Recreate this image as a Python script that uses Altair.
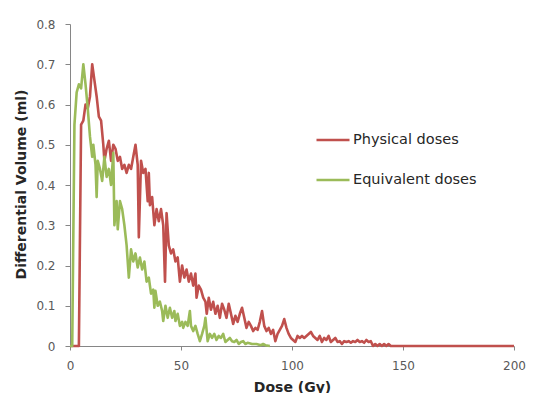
import altair as alt
import pandas as pd

phys_x = [0, 4, 5, 6, 7, 8, 9, 10, 11, 12, 13, 14, 15, 15.5, 16.5, 17.5, 18.5, 19.5, 20.5, 21.5,
          22.5, 23.5, 24.5, 25.5, 26.5, 27.5, 28.5, 29.5, 30.5, 31, 32, 33, 34, 35, 35.5, 36,
          37, 38, 39, 40, 41, 42, 42.8, 43.5, 44.5, 45.5, 46.5, 47.5, 48.5, 49.5, 50.5, 51.5,
          52.5, 53.5, 54.5, 55.5, 56.5, 57, 58, 59, 60, 61, 61.6, 62.5, 63.5, 64.5, 65.5, 66.5,
          67.5, 68.5, 69.5, 70.5, 71.5, 72.5, 73.5, 74.5, 75.5, 76.5, 77.5, 78.5, 79.5, 80.5,
          81.5, 82.5, 83.5, 84.5, 85.5, 86.5, 87.5, 88.5, 89.5, 90.5, 91.5, 92.5, 93.5, 94.5,
          95.5, 96.5, 97.5, 98.5, 99.5, 100.5, 101.5, 102.5, 103.5, 104.5, 105.5, 106.5, 107.5,
          108.5, 109.5, 110.5, 111.5, 112.5, 113.5, 114.5, 115.5, 116.5, 117.5, 118.5, 119.5,
          120.5, 121.5, 122.5, 123.5, 124.5, 125.5, 126.5, 127.5, 128.5, 129.5, 130.5, 131.5,
          132.5, 133.5, 134.5, 135.5, 136.5, 137.5, 138.5, 139.5, 140.5, 141.5, 142.5, 143.5,
          144.5, 200]
phys_y = [0, 0, 0.55, 0.56, 0.60, 0.59, 0.62, 0.70, 0.66, 0.62, 0.57, 0.56, 0.50, 0.46, 0.49,
          0.51, 0.46, 0.50, 0.49, 0.46, 0.47, 0.44, 0.45, 0.43, 0.45, 0.44, 0.47, 0.50, 0.45,
          0.27, 0.46, 0.43, 0.44, 0.36, 0.43, 0.35, 0.37, 0.30, 0.34, 0.31, 0.34, 0.30, 0.16,
          0.33, 0.25, 0.23, 0.24, 0.21, 0.22, 0.16, 0.20, 0.17, 0.19, 0.16, 0.18, 0.15, 0.18,
          0.12, 0.15, 0.14, 0.12, 0.11, 0.08, 0.12, 0.09, 0.11, 0.08, 0.10, 0.07, 0.105, 0.09,
          0.07, 0.105, 0.08, 0.055, 0.075, 0.06, 0.08, 0.095, 0.07, 0.045, 0.06, 0.05, 0.037,
          0.045, 0.04, 0.06, 0.087, 0.05, 0.037, 0.045, 0.03, 0.04, 0.012, 0.03, 0.04, 0.05,
          0.067, 0.045, 0.03, 0.02, 0.015, 0.01, 0.025, 0.02, 0.025, 0.02, 0.025, 0.03, 0.035,
          0.025, 0.02, 0.015, 0.025, 0.01, 0.02, 0.015, 0.025, 0.01, 0.015, 0.02, 0.01, 0.012,
          0.005, 0.012, 0.01, 0.012, 0.008, 0.012, 0.01, 0.015, 0.01, 0.012, 0.008, 0.015,
          0.01, 0.012, 0, 0.005, 0, 0.005, 0, 0.005, 0, 0.005, 0, 0]

equiv_x = [0, 1, 2, 3, 4, 5, 6, 7, 8, 9, 10, 10.5, 11.5, 12, 12.5, 13.5, 14.5, 15.5, 16.5, 17.5,
           18.5, 19.5, 20, 21, 21.5, 22.5, 23.5, 24.5, 25.5, 26.5, 27.5, 28.5, 29.5, 30.5,
           31.5, 32.5, 33.5, 34.5, 35.5, 36.5, 37.5, 38, 38.5, 39.5, 40.5, 41.5, 42, 43, 44,
           45, 46, 47, 47.5, 48.5, 49.5, 50.5, 51, 52, 53, 54, 54.5, 55.5, 56.5, 57.5, 58.5,
           59.5, 60.5, 61, 62, 63, 64, 65, 66, 67, 68, 69, 70, 71, 72, 73, 74, 75, 76, 77, 78,
           79, 80, 82, 84, 86, 87, 88, 90]
equiv_y = [0, 0, 0.55, 0.63, 0.65, 0.64, 0.70, 0.65, 0.59, 0.52, 0.47, 0.50, 0.45, 0.37, 0.46,
           0.44, 0.41, 0.47, 0.42, 0.44, 0.40, 0.48, 0.30, 0.36, 0.29, 0.36, 0.34, 0.30, 0.25,
           0.17, 0.24, 0.21, 0.23, 0.195, 0.22, 0.19, 0.21, 0.16, 0.17, 0.13, 0.14, 0.095,
           0.137, 0.10, 0.11, 0.087, 0.062, 0.10, 0.07, 0.095, 0.07, 0.087, 0.062, 0.08, 0.05,
           0.06, 0.045, 0.06, 0.05, 0.087, 0.05, 0.037, 0.05, 0.03, 0.012, 0.03, 0.05, 0.07,
           0.012, 0.03, 0.02, 0.03, 0.015, 0.025, 0.02, 0.03, 0.01, 0.015, 0.02, 0.012, 0.01,
           0.015, 0.005, 0.01, 0.012, 0.005, 0.008, 0.005, 0.005, 0.002, 0.005, 0.002, 0]

series_names = ["Physical doses", "Equivalent doses"]
series_colors = ["#c0504d", "#9bbb59"]
x_ticks = [0, 50, 100, 150, 200]
y_ticks = [0, 0.1, 0.2, 0.3, 0.4, 0.5, 0.6, 0.7, 0.8]

rows = []
for i, (xs, ys) in enumerate([(phys_x, phys_y), (equiv_x, equiv_y)]):
    for j, (a, b) in enumerate(zip(xs, ys)):
        rows.append({"dose": a, "vol": b, "series": series_names[i], "o": j})
df = pd.DataFrame(rows)

FONT = "DejaVu Sans"
AX = "#868686"
LAB = "#595959"
TIT = "#262626"

chart = alt.Chart(df).mark_line(strokeWidth=2.6, strokeJoin="round").encode(
    x=alt.X("dose:Q", scale=alt.Scale(domain=[0, 200], nice=False),
            axis=alt.Axis(values=x_ticks, title="Dose  (Gy)", grid=False, domainColor=AX,
                          tickColor=AX, tickSize=4, labelPadding=10, labelFontSize=12,
                          labelColor=LAB, labelFont=FONT, titleFont=FONT,
                          titleFontSize=14, titleFontWeight="bold", titleColor=TIT,
                          titleY=41, titleBaseline="middle", labelFlush=False)),
    y=alt.Y("vol:Q", scale=alt.Scale(domain=[0, 0.8], nice=False),
            axis=alt.Axis(values=y_ticks, title="Differential Volume (ml)", grid=False,
                          domainColor=AX, tickColor=AX, tickSize=5, labelPadding=10,
                          labelFontSize=12, labelColor=LAB, labelFont=FONT,
                          titleFont=FONT, titleFontSize=14, titleFontWeight="bold",
                          titleColor=TIT, titleX=-49, titleY=160, titleAngle=-90,
                          titleBaseline="middle",
                          labelExpr="datum.value == 0 ? '0' : format(datum.value, '.1f')")),
    color=alt.Color("series:N", scale=alt.Scale(domain=series_names, range=series_colors),
                    legend=alt.Legend(title=None, orient="none", legendX=245, legendY=98,
                                      symbolType="stroke", symbolSize=1089, symbolStrokeWidth=2.6,
                                      labelFont=FONT, labelFontSize=14.5, labelColor=TIT,
                                      labelOffset=2, rowPadding=15)),
    order="o:Q",
).properties(width=444, height=322, padding={"left": 62, "top": 16, "right": 12, "bottom": 47},
             autosize=alt.AutoSizeParams(type="none")).configure_view(stroke=None)

chart.save("out.html", embed_options={"renderer": "svg", "actions": False})
